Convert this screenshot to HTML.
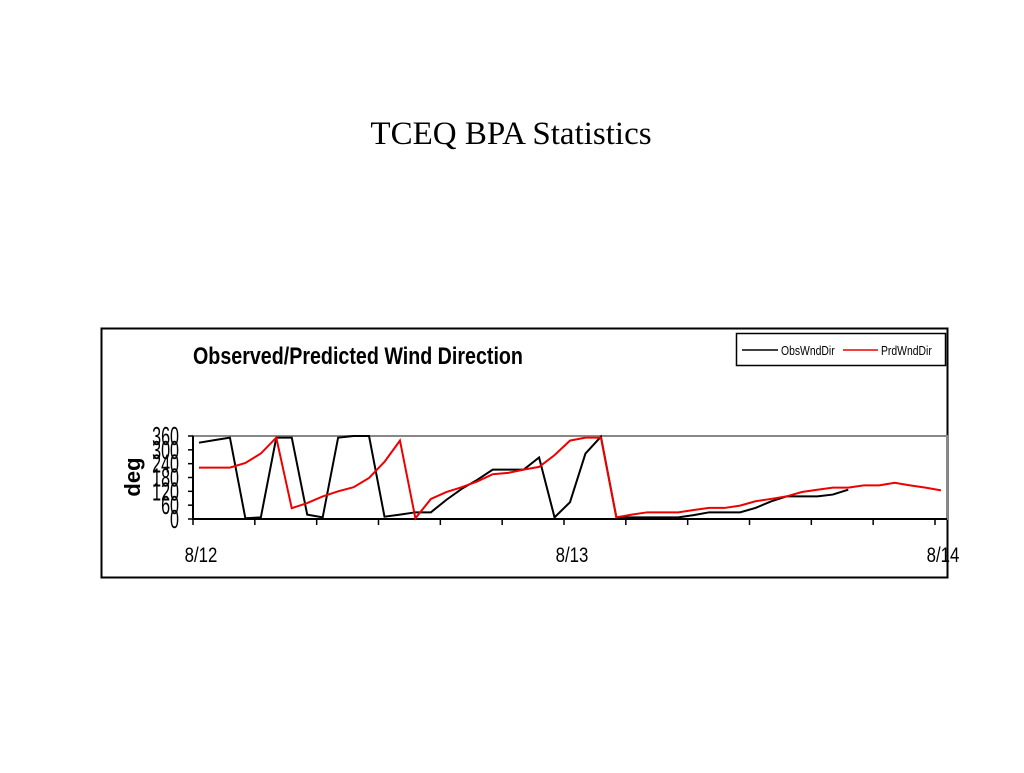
<!DOCTYPE html>
<html><head><meta charset="utf-8"><style>
body{margin:0;background:#fff;width:1024px;height:768px;overflow:hidden;font-family:"Liberation Sans",sans-serif}
</style></head><body>
<svg width="1024" height="768">
<text x="511" y="144" text-anchor="middle" font-family="Liberation Serif" font-size="33">TCEQ BPA Statistics</text>
<rect x="101.5" y="328.5" width="846" height="249" fill="#fff" stroke="#000" stroke-width="2"/>
<text x="193" y="364" font-size="24" font-weight="bold" transform="translate(193 0) scale(0.82 1) translate(-193 0)">Observed/Predicted Wind Direction</text>
<g>
<rect x="736.5" y="333.5" width="209" height="32" fill="#fff" stroke="#000" stroke-width="1.5"/>
<line x1="742" y1="350" x2="778" y2="350" stroke="#000" stroke-width="1.5"/>
<text x="781" y="355" font-size="13" transform="translate(781 0) scale(0.8 1) translate(-781 0)">ObsWndDir</text>
<line x1="843" y1="350" x2="878" y2="350" stroke="#e00" stroke-width="1.5"/>
<text x="881" y="355" font-size="13" transform="translate(881 0) scale(0.8 1) translate(-881 0)">PrdWndDir</text>
</g>
<g id="plot"></g>
</svg>
<script>
const obs=[331,342,353,3,7,353,353,19,7,353,360,360,10,19,29,29,83,131,170,214,214,214,267,7,73,284,357,7,7,7,7,7,17,29,29,29,48,76,98,98,98,106,127];
const prd=[223,223,223,243,284,353,47,69,98,120,138,178,248,340,3,87,117,138,163,194,200,214,226,277,340,353,353,7,19,29,29,29,39,48,48,58,77,87,98,117,127,136,136,146,146,157,146,136,124];
const yTicks=[0,60,120,180,240,300,360];
const xLabels=['8/12','8/13','8/14'];
const NS='http://www.w3.org/2000/svg';
const g=document.getElementById('plot');
const x0=193,dayW=371,y0=519,yTop=436;
const xs=i=>199+i*dayW/24;
const ys=v=>y0-(v/360)*(y0-yTop);
function mk(t,a){const e=document.createElementNS(NS,t);for(const k in a)e.setAttribute(k,a[k]);g.appendChild(e);return e;}
let e=mk('rect',{x:x0,y:yTop,width:947-x0,height:y0-yTop,fill:'none',stroke:'#888','stroke-width':2});


e=mk('line',{x1:x0,y1:yTop,x2:x0,y2:y0,stroke:'#000','stroke-width':2});


e=mk('line',{x1:x0,y1:y0,x2:947,y2:y0,stroke:'#000','stroke-width':2});


yTicks.forEach(v=>{
 mk('line',{x1:x0-5,y1:ys(v),x2:x0,y2:ys(v),stroke:'#000','stroke-width':1.5});
 const t=mk('text',{x:179,y:ys(v)+9,'font-size':26,'text-anchor':'end',transform:`translate(179 0) scale(0.62 1) translate(-179 0)`});
 t.textContent=v;
 
 
});
for(let h=0;h<=48;h+=4){const x=x0+h*dayW/24;mk('line',{x1:x,y1:y0,x2:x,y2:y0+6,stroke:'#000','stroke-width':1.5});}
xLabels.forEach((l,i)=>{
 const x=x0+i*dayW+8;
 const t=mk('text',{x:x,y:562,'font-size':21,'text-anchor':'middle',transform:`translate(${x} 0) scale(0.8 1) translate(${-x} 0)`});
 t.textContent=l;
 
 
});
const yl=mk('text',{x:0,y:0,'font-size':22,'font-weight':'bold','text-anchor':'middle',transform:'translate(140 477) rotate(-90)'});
yl.textContent='deg';


let p=mk('polyline',{points:obs.map((v,i)=>xs(i)+','+ys(v)).join(' '),fill:'none',stroke:'#000','stroke-width':2});


p=mk('polyline',{points:prd.map((v,i)=>xs(i)+','+ys(v)).join(' '),fill:'none',stroke:'#e00','stroke-width':2});


</script>
</body></html>
